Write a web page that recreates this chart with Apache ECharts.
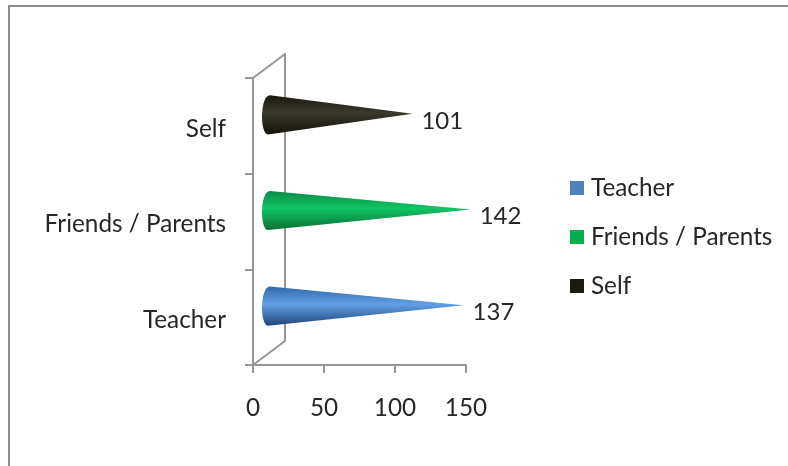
<!DOCTYPE html>
<html><head><meta charset="utf-8">
<style>html,body{margin:0;padding:0;background:#fff}#c{width:788px;height:466px}</style>
<script src="https://cdn.jsdelivr.net/npm/echarts@6/dist/echarts.min.js"></script>
</head><body><div id="c"></div>
<script>
const categories = ['Teacher', 'Friends / Parents', 'Self'];
const seriesNames = ['Teacher', 'Friends / Parents', 'Self'];
const values = [137, 142, 101];
const xTicks = [0, 50, 100, 150];
const legendColors = ['#4f81bd', '#00b050', '#1d1b10'];
const coneTop = ['#3268a8', '#0b8a45', '#1a180e'];
const coneMid = ['#639fe6', '#10c564', '#3a392c'];
const coneBottom = ['#1d4678', '#0a6e36', '#14120a'];

const FONT = 'Lato';
const AXIS = '#969696';
const TEXT = '#262626';
const FS = 24.3;

function coneRenderer(i) {
  return function (params, api) {
    const base = api.coord([0, api.value(1)]);
    const tip = api.coord([api.value(0), api.value(1)]);
    const ry = api.size([0, 1])[1] * 0.205;
    const rx = 9.3;
    const cy = base[1] + 1;
    const fill = new echarts.graphic.LinearGradient(0, 0, 0, 1, [
      {offset: 0, color: coneTop[i]},
      {offset: 0.45, color: coneMid[i]},
      {offset: 1, color: coneBottom[i]}
    ]);
    const d = 'M' + tip[0] + ' ' + tip[1] +
      'L' + (base[0] + 1) + ' ' + (cy - ry) +
      'C' + (base[0] - rx) + ' ' + (cy - ry) + ' ' + (base[0] - rx) + ' ' + (cy + ry) + ' ' + (base[0] - 1) + ' ' + (cy + ry) +
      'Z';
    return {
      type: 'group',
      children: [
        {type: 'path', shape: {pathData: d}, style: {fill: fill}},
        {type: 'text', x: tip[0] + 9, y: tip[1] + 7,
         style: {text: String(api.value(0)), font: '24px ' + FONT, fill: TEXT, textAlign: 'left', textVerticalAlign: 'middle'}}
      ]
    };
  };
}

const chart = echarts.init(document.getElementById('c'), null, {renderer: 'canvas'});
const G = {l: 253, t: 78, w: 213, h: 287, dx: 16, dy: -12};
chart.setOption({
  animation: false,
  backgroundColor: '#fff',
  grid: [
    {left: G.l, top: G.t, width: G.w, height: G.h},
    {left: G.l + G.dx, top: G.t + G.dy, width: G.w, height: G.h},
    {left: G.l + 2 * G.dx, top: G.t + 2 * G.dy, width: G.w, height: G.h}
  ],
  xAxis: [
    {gridIndex: 0, type: 'value', min: 0, max: 150, interval: 50,
     axisLine: {show: true, lineStyle: {color: AXIS, width: 2}},
     axisTick: {show: true, length: 8, lineStyle: {color: AXIS, width: 2}},
     splitLine: {show: false},
     axisLabel: {fontFamily: FONT, fontSize: FS, color: TEXT, margin: 31, hideOverlap: false, showMinLabel: true, showMaxLabel: true,
       formatter: v => String(xTicks[xTicks.indexOf(v)])}},
    {gridIndex: 1, type: 'value', min: 0, max: 150, interval: 50, show: false},
    {gridIndex: 2, type: 'value', min: 0, max: 150, interval: 50, show: false}
  ],
  yAxis: [
    {gridIndex: 0, type: 'category', data: categories,
     axisLine: {show: true, lineStyle: {color: AXIS, width: 2}},
     axisTick: {show: true, length: 8, lineStyle: {color: AXIS, width: 2}},
     axisLabel: {fontFamily: FONT, fontSize: FS, color: TEXT, margin: 27, interval: 0, padding: [0, 0, 0, 0], verticalAlign: 'top', lineHeight: 24, padding: [-9, 0, 0, 0]}},
    {gridIndex: 1, type: 'category', data: categories, show: false},
    {gridIndex: 2, type: 'category', data: categories, position: 'left',
     axisLine: {show: true, lineStyle: {color: AXIS, width: 2}},
     axisTick: {show: false}, axisLabel: {show: false}}
  ],
  legend: {
    left: 565, top: 171, orient: 'vertical', itemWidth: 14, itemHeight: 14, itemGap: 25,
    data: seriesNames,
    icon: 'rect',
    textStyle: {fontFamily: FONT, fontSize: FS, color: TEXT, padding: [0, 0, 0, 2]}
  },
  series: seriesNames.map((name, i) => ({
    name: name, type: 'custom', xAxisIndex: 1, yAxisIndex: 1, z: 5,
    itemStyle: {color: legendColors[i]},
    renderItem: coneRenderer(i),
    encode: {x: 0, y: 1},
    data: [[values[i], i]]
  })),
  graphic: [
    {type: 'polyline', silent: true, z: 1, shape: {points: [[9, 466], [9, 6], [788, 6]]},
     style: {stroke: '#8c8c8c', lineWidth: 2, fill: null}},
    {type: 'line', silent: true, z: 1, shape: {x1: G.l, y1: G.t, x2: G.l + 2 * G.dx, y2: G.t + 2 * G.dy},
     style: {stroke: AXIS, lineWidth: 2}},
    {type: 'line', silent: true, z: 1, shape: {x1: G.l, y1: G.t + G.h, x2: G.l + 2 * G.dx, y2: G.t + G.h + 2 * G.dy},
     style: {stroke: AXIS, lineWidth: 2}}
  ]
});
</script></body></html>
